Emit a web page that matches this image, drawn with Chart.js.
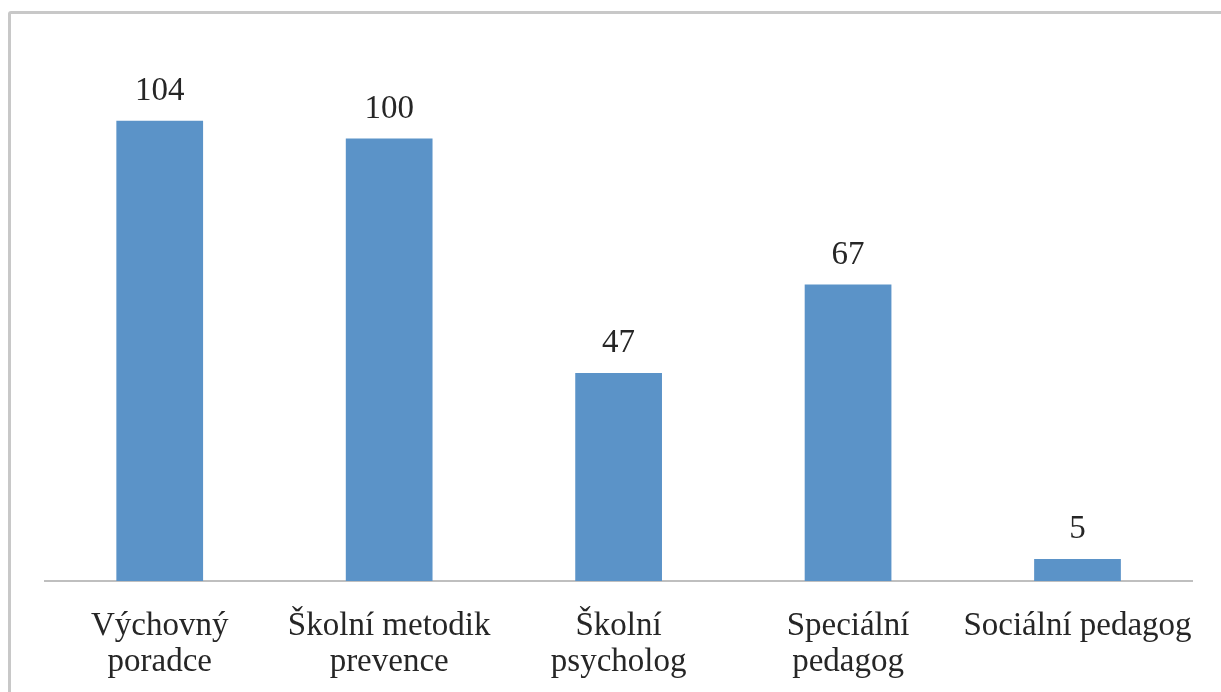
<!DOCTYPE html>
<html lang="cs">
<head>
    <meta charset="UTF-8">
    <title>Pozice ve škole</title>
    <script src="https://cdn.jsdelivr.net/npm/chart.js"></script>
    <style>
        html, body {
            margin: 0;
            padding: 0;
            background: #fff;
            overflow: hidden;
        }
        .frame {
            position: absolute;
            left: 8px;
            top: 11px;
            width: 1400px;
            height: 900px;
            border: 3px solid #c8c8c8;
            border-radius: 3px;
        }
        .chart-box {
            position: absolute;
            left: 0;
            top: 0;
            width: 1221px;
            height: 692px;
        }
    </style>
</head>
<body>
    <div class="frame"></div>
    <div class="chart-box">
        <canvas id="barChart"></canvas>
    </div>

    <script>
        // data
        const categories = [
            ['Výchovný', 'poradce'],
            ['Školní metodik', 'prevence'],
            ['Školní', 'psycholog'],
            ['Speciální', 'pedagog'],
            'Sociální pedagog'
        ];
        const counts = [104, 100, 47, 67, 5];

        const textColor = '#262626';
        const fontFamily = "'Liberation Serif', 'Times New Roman', serif";

        // prints the value above each bar
        const valueLabels = {
            id: 'valueLabels',
            afterDatasetsDraw(chart) {
                const ctx = chart.ctx;
                const meta = chart.getDatasetMeta(0);
                ctx.save();
                ctx.font = '33px ' + fontFamily;
                ctx.fillStyle = textColor;
                ctx.textAlign = 'center';
                ctx.textBaseline = 'alphabetic';
                meta.data.forEach((bar, i) => {
                    ctx.fillText(String(counts[i]), bar.x, bar.y - 21);
                });
                ctx.restore();
            }
        };

        const ctx = document.getElementById('barChart').getContext('2d');
        const barChart = new Chart(ctx, {
            type: 'bar',
            data: {
                labels: categories,
                datasets: [{
                    data: counts,
                    backgroundColor: '#5b93c8',
                    borderWidth: 0,
                    categoryPercentage: 1,
                    barPercentage: 0.378
                }]
            },
            options: {
                responsive: true,
                maintainAspectRatio: false,
                animation: false,
                layout: {
                    padding: { top: 50, left: 45, right: 24, bottom: 0 }
                },
                plugins: {
                    legend: { display: false },
                    tooltip: { enabled: false }
                },
                scales: {
                    x: {
                        grid: { display: false, drawTicks: false },
                        border: { color: '#bfbfbf', width: 2 },
                        ticks: {
                            color: textColor,
                            padding: 27,
                            maxRotation: 0,
                            autoSkip: false,
                            font: { family: fontFamily, size: 33, lineHeight: 1.1 }
                        },
                        afterFit: scale => { scale.height = 111; }
                    },
                    y: {
                        display: false,
                        min: 0,
                        max: 120
                    }
                }
            },
            plugins: [valueLabels]
        });
    </script>
</body>
</html>
